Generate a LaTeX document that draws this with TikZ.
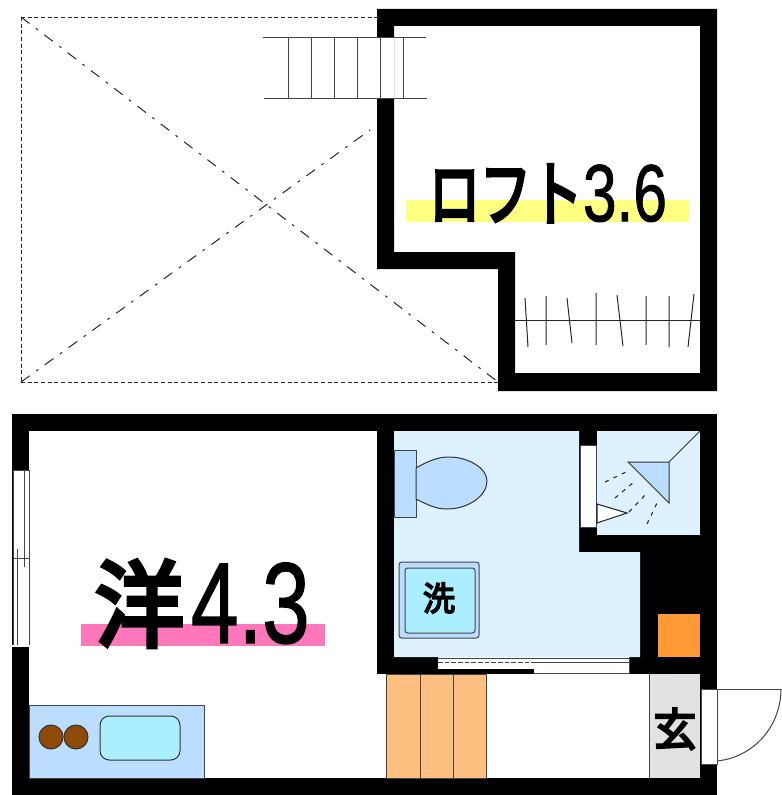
\documentclass[tikz,border=0pt]{standalone}
\usepackage{fontspec}
\usepackage{graphicx}
\newfontfamily\cjk[FakeBold=5]{Noto Sans CJK JP}
\newfontfamily\numf[FakeBold=1.2]{Liberation Sans}
\definecolor{bathblue}{HTML}{DDF1FF}
\definecolor{fixblue}{HTML}{BBDDFF}
\definecolor{sinkcyan}{HTML}{AAEEFF}
\definecolor{stairor}{HTML}{FFBF80}
\definecolor{heater}{HTML}{FF9933}
\definecolor{entry}{HTML}{E2E2E2}
\definecolor{hob}{HTML}{8F4A08}
\definecolor{barpink}{HTML}{FF77BB}
\definecolor{baryellow}{HTML}{FFFF80}
\definecolor{thin}{HTML}{444444}
\tikzset{
  wall/.style={fill=black,draw=none},
  thinline/.style={draw=thin,line width=0.75pt},
  hatch/.style={draw=black!85,line width=0.75pt},
  plandash/.style={draw=black!85,line width=0.75pt,dash pattern=on 8pt off 6pt on 2pt off 6pt},
  edgedash/.style={draw=black!85,line width=0.7pt,dash pattern=on 3pt off 2pt},
  spray/.style={draw=black!85,line width=0.8pt,dash pattern=on 3pt off 4pt},
  fixture/.style={draw=black!80,line width=0.75pt},
  label/.style={inner sep=0pt,outer sep=0pt}
}
\begin{document}
\begin{tikzpicture}[x=0.75pt,y=-0.75pt]
\useasboundingbox (0,0) rectangle (781,795);
% --- loft ---
\draw[edgedash] (21,17) -- (377,17);
\draw[edgedash] (21,17) -- (21,382);
\draw[edgedash] (21,382) -- (498,382);
\draw[plandash] (21,17) -- (498,382);
\draw[plandash] (21,382) -- (370,130);
\fill[wall,even odd rule]
  (377,9) -- (717,9) -- (717,391) -- (498,391) -- (498,269) -- (377,269) -- cycle
  (394,26) -- (700,26) -- (700,373) -- (515,373) -- (515,252) -- (394,252) -- cycle;
\fill[white] (377,38) rectangle (394,99);
\draw[thinline] (263,38) -- (426,38) (264,99) -- (427,99);
\foreach \x in {288,311,334,357,380,403} \draw[thinline] (\x,38) -- (\x,99);
\draw[hatch] (515,320) -- (700,320);
\draw[hatch] (525,298) -- (528,347) (546,296) -- (546,345) (567,298) -- (572,343)
  (596,293) -- (596,345) (617,295) -- (623,346) (646,296) -- (646,345)
  (669,296) -- (669,347) (694,294) -- (688,347);
\fill[baryellow] (406,200) rectangle (689,222);
\node[label,anchor=south west] (loftkana) at (429,222)
  {\resizebox*{115pt}{43pt}{\cjk ロフト}};
\node[label,anchor=south east] (loftnum) at (667,222)
  {\resizebox*{63pt}{43pt}{\numf 3.6}};
% --- lower floor shell ---
\fill[wall] (12,414) rectangle (717,795);
\fill[white] (29,431) rectangle (377,778);
\fill[white] (377,674) rectangle (649,778);
% bath
\fill[bathblue] (394,431) -- (579,431) -- (579,552) -- (640,552) -- (640,657) -- (394,657) -- cycle;
\fill[bathblue] (597,431) rectangle (700,535);
\fill[heater] (658,614) rectangle (700,657);
% entrance and stairs
\fill[entry] (649,674) rectangle (700,778);
\draw[thinline] (649,674) -- (649,778);
\filldraw[fill=stairor,draw=thin,line width=0.7pt] (386,674) rectangle (420,778);
\filldraw[fill=stairor,draw=thin,line width=0.7pt] (420,674) rectangle (453,778);
\filldraw[fill=stairor,draw=thin,line width=0.7pt] (453,674) rectangle (486,778);
% sliding door
\fill[white] (438,657) rectangle (629,669);
\fill[white] (534,669) rectangle (629,674);
\draw[thinline] (438,658) -- (629,658);
\draw[thinline] (534,662) -- (629,662);
\draw[thinline,dash pattern=on 3.5pt off 1.5pt] (438,662) -- (534,662);
\draw[thinline] (534,673) -- (629,673);
\draw[thinline] (629,657) -- (629,674);
% shower door
\filldraw[fill=white,draw=thin,line width=0.7pt] (580,445) rectangle (596,527);
\filldraw[fill=white,draw=black!85,line width=0.8pt] (597,504) -- (627,513) -- (597,523) -- cycle;
% shower head
\filldraw[fixture,fill=fixblue] (628,462) -- (669,462) -- (669,503) -- cycle;
\draw[fixture] (669,462) -- (700,431);
\draw[spray] (605,482) -- (626,472);
\draw[spray] (615,498) -- (635,481);
\draw[spray] (629,512) -- (647,493);
\draw[spray] (647,524) -- (657,503);
% toilet
\filldraw[thinline,fill=fixblue] (394,450) rectangle (416,517);
\filldraw[fixture,fill=fixblue] (416,468)
  .. controls (428,461) and (438,457) .. (449,457)
  .. controls (468,457) and (487,468) .. (487,481)
  .. controls (487,496) and (468,509) .. (447,509)
  .. controls (436,509) and (428,505) .. (416,499) -- cycle;
% washer
\filldraw[thinline,fill=fixblue,rounded corners=2pt] (399,562) rectangle (479,638);
\filldraw[thinline,fill=sinkcyan,rounded corners=2pt] (405,568) rectangle (475,633);
\node[label] (washlabel) at (439,598) {\resizebox*{24pt}{23pt}{\cjk 洗}};
% entrance door
\filldraw[fill=white,draw=thin,line width=0.7pt] (701,689) rectangle (717,764);
\coordinate (doorhinge) at (717,689);
\coordinate (doortip) at (781,689);
\coordinate (doorend) at (717,761);
\draw[thinline] (doorhinge) -- (doortip);
\draw[thinline] (doortip) .. controls (781,725) and (755,757) .. (doorend);
\node[label] (entrylabel) at (675,729) {\resizebox*{32pt}{31pt}{\cjk 玄}};
% window
\filldraw[fill=white,draw=thin,line width=0.7pt] (13,470) rectangle (29,645);
\fill[white] (12,645) rectangle (30,647);
\draw[thinline] (17,549) -- (17,645) (24,470) -- (24,567) (13,558) -- (29,558);
% kitchen
\filldraw[thinline,fill=fixblue] (29,705) rectangle (204,778);
\filldraw[fixture,fill=hob] (51,737) circle (12);
\filldraw[fixture,fill=hob] (76,737) circle (12);
\filldraw[fixture,fill=sinkcyan,rounded corners=7pt] (100,716) rectangle (180,760);
% room label
\fill[barpink] (81,624) rectangle (325,646);
\node[label,anchor=south west] (roomkanji) at (95,647)
  {\resizebox*{67pt}{65pt}{\cjk 洋}};
\node[label,anchor=south west] (roomnum) at (191,644)
  {\resizebox*{89pt}{61pt}{\numf 4.3}};
\end{tikzpicture}
\end{document}
